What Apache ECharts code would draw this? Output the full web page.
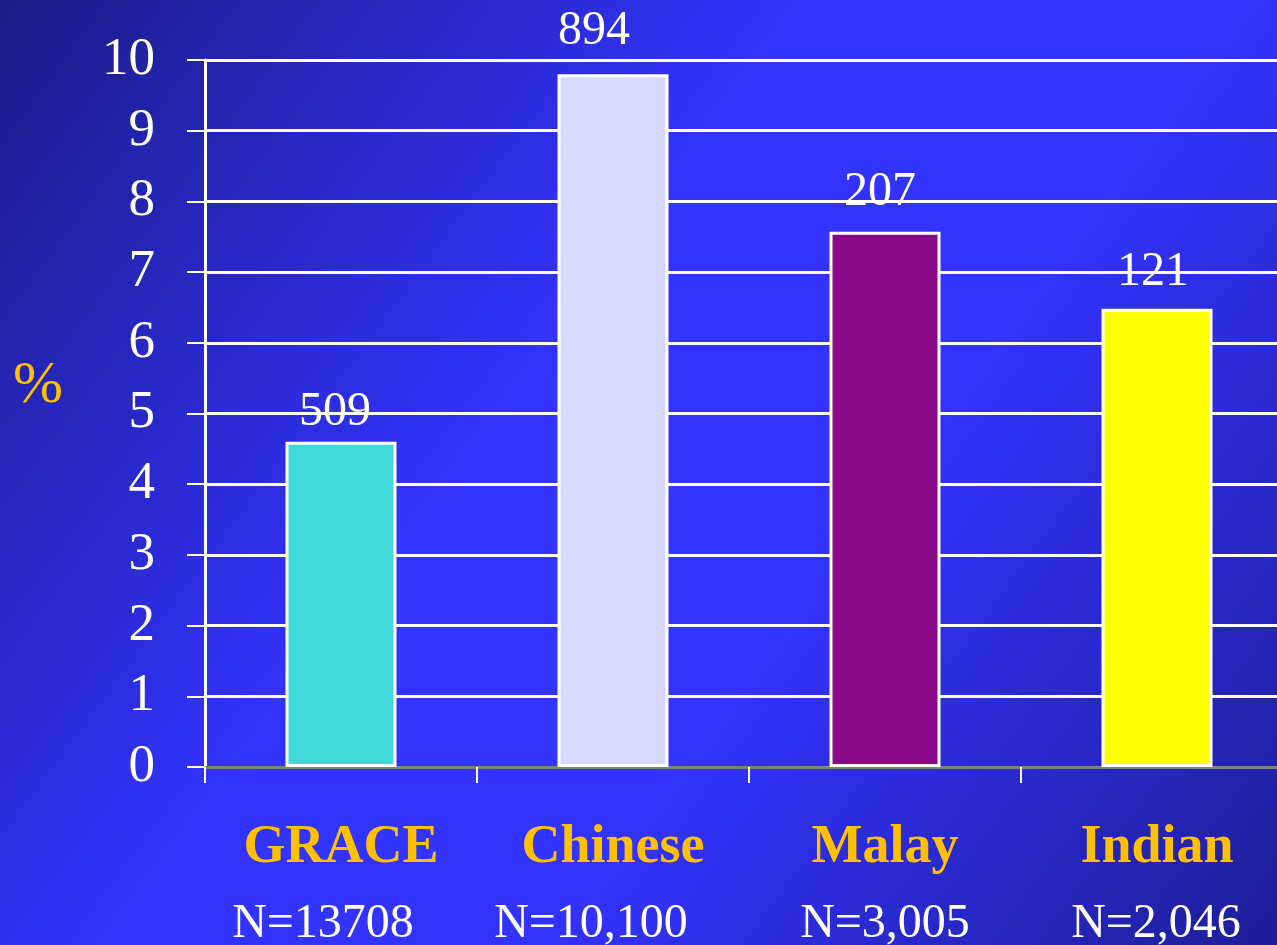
<!DOCTYPE html>
<html>
<head>
<meta charset="utf-8">
<title>GRACE vs ethnic groups</title>
<script src="https://cdn.jsdelivr.net/npm/echarts@6/dist/echarts.min.js"></script>
<style>
  html, body { margin: 0; padding: 0; background: #3333ff; overflow: hidden; }
  #chart { width: 1277px; height: 945px; }
</style>
</head>
<body>
<div id="chart"></div>
<script>
// Groups shown along the x axis, with their cohort sizes
const categories = ['GRACE', 'Chinese', 'Malay', 'Indian'];
const cohortSizes = ['N=13708', 'N=10,100', 'N=3,005', 'N=2,046'];
// Percentage per group (bar heights) and event counts printed above each bar
const percentValues = [4.6, 9.8, 7.57, 6.48];
const eventCounts = ['509', '894', '207', '121'];
const barColors = ['#40d8d8', '#d8d8ff', '#880888', '#ffff00'];
const yTicks = { min: 0, max: 10, interval: 1 };

// small hand nudges for the count labels and the cohort-size lines
const countLabelNudge = [[-6, 0], [-19, -14], [-5, -10], [-4, -7]];
const cohortPadRight = [36, 44, 0, 2];

const serif = '"Liberation Serif", "Times New Roman", serif';
const gold = '#ffc000';

const richStyles = {
  a: { fontFamily: serif, fontWeight: 'bold', fontSize: 54, color: gold, lineHeight: 76 }
};
cohortPadRight.forEach((p, i) => {
  richStyles['b' + i] = {
    fontFamily: serif, fontSize: 48, color: '#ffffff', lineHeight: 76,
    padding: [0, p, 0, 0]
  };
});

const chart = echarts.init(document.getElementById('chart'));

chart.setOption({
  animation: false,
  backgroundColor: new echarts.graphic.LinearGradient(0, 0, 1, 1, [
    { offset: 0, color: '#1c1c88' },
    { offset: 0.42, color: '#3333ff' },
    { offset: 0.62, color: '#3333ff' },
    { offset: 1, color: '#1e1e98' }
  ]),
  // the last category band runs past the right edge of the canvas
  grid: {
    left: 205, top: 60, bottom: 178, width: 1088,
    containLabel: false,
    outerBoundsMode: 'none'
  },
  graphic: [{
    type: 'text',
    left: 13,
    top: 356,
    style: { text: '%', font: '60px ' + serif, fill: gold }
  }],
  xAxis: {
    type: 'category',
    data: categories,
    axisLine: { lineStyle: { color: '#808080', width: 3 } },
    axisTick: { show: true, length: 16, lineStyle: { color: '#ffffff', width: 2 } },
    axisLabel: {
      margin: 43,
      interval: 0,
      formatter: (v, i) => '{a|' + v + '}\n{b' + i + '|' + cohortSizes[i] + '}',
      rich: richStyles
    }
  },
  yAxis: {
    type: 'value',
    min: yTicks.min,
    max: yTicks.max,
    interval: yTicks.interval,
    axisLine: { show: true, lineStyle: { color: '#ffffff', width: 3 } },
    axisTick: { show: true, length: 18, lineStyle: { color: '#ffffff', width: 2 } },
    axisLabel: { margin: 50, fontFamily: serif, fontSize: 53, color: '#ffffff' },
    splitLine: { show: true, lineStyle: { color: '#ffffff', width: 3 } }
  },
  series: [{
    type: 'bar',
    barWidth: 111,
    data: percentValues.map((v, i) => ({
      value: v,
      itemStyle: { color: barColors[i] },
      label: { offset: countLabelNudge[i] }
    })),
    itemStyle: { borderColor: '#ffffff', borderWidth: 3 },
    label: {
      show: true,
      position: 'top',
      distance: 5,
      fontFamily: serif,
      fontSize: 48,
      color: '#ffffff',
      formatter: p => eventCounts[p.dataIndex]
    }
  }]
});
</script>
</body>
</html>
